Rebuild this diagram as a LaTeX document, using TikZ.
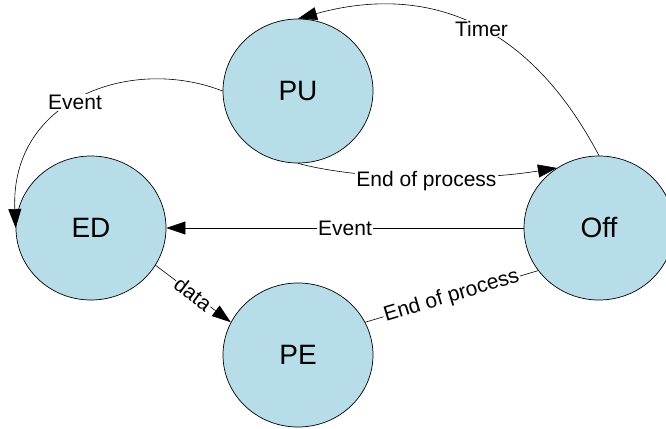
\documentclass[tikz,border=0pt]{standalone}
\usepackage{fontspec}
\setmainfont{Liberation Sans}
\usetikzlibrary{arrows.meta,shapes.geometric}
\definecolor{stfill}{RGB}{183,221,232}
\tikzset{
  state/.style={ellipse,draw=black,line width=0.7pt,fill=stfill,minimum width=150pt,minimum height=144pt,inner sep=0pt,font=\fontsize{28}{30}\selectfont},
  edge/.style={line width=0.6pt,-{Triangle[length=19pt,width=13pt]}},
  plain/.style={line width=0.6pt},
  lbl/.style={fill=white,inner sep=1pt,font=\fontsize{21}{23}\selectfont}
}
\begin{document}
\begin{tikzpicture}[x=1pt,y=-1pt]
\useasboundingbox (0,0) rectangle (666,428);
\node[state] (PU) at (298,91) {PU};
\node[state] (ED) at (91,228) {ED};
\node[state] (Off) at (599,228) {Off};
\node[state] (PE) at (298,355) {PE};
% Timer
\draw[edge] (Off.north) .. controls (525,15) and (420,-15) .. (PU.north) node[lbl,pos=0.45] {Timer};
% End of process PU -> Off
\draw[edge] (PU.south) .. controls (360,180) and (470,182) .. (Off.125) node[lbl,pos=0.53,yshift=-4pt] {End of process};
% Event Off -> ED
\draw[edge] (Off.west) -- (ED.east) node[lbl,midway] {Event};
% End of process PE -- Off
\draw[plain] (PE.26) -- (Off.215) node[lbl,midway,sloped] {End of process};
% data ED -> PE
\draw[edge] (ED.-30) -- (PE.154) node[lbl,midway,sloped] {data};
% Event PU -> ED
\draw[edge] (PU.west) .. controls (130,55) and (10,100) .. (ED.west) node[lbl,pos=0.53] {Event};
\end{tikzpicture}
\end{document}
